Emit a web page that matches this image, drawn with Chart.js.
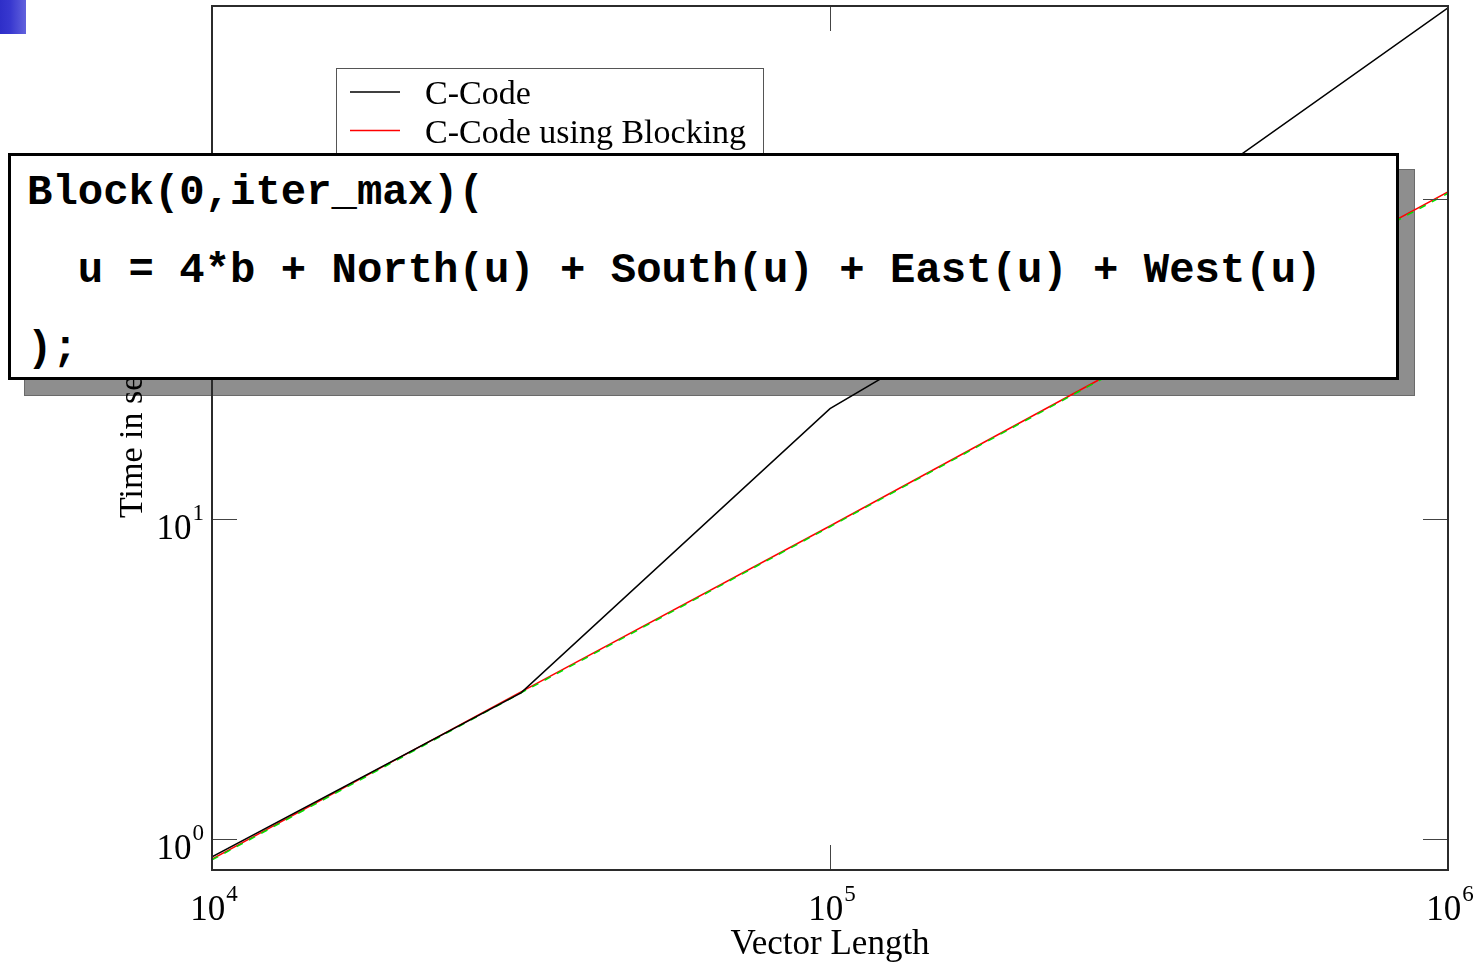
<!DOCTYPE html>
<html lang="en">
<head>
    <meta charset="UTF-8">
    <script src="https://cdn.jsdelivr.net/npm/chart.js@4.4.1/dist/chart.umd.min.js"></script>
    <title>Vector length timing</title>
    <style type="text/css">
        body {
            margin: 0;
            background: #fff;
            width: 1480px;
            height: 965px;
            overflow: hidden;
            position: relative;
        }
        #chart { position: absolute; left: 0; top: 0; z-index: 1; }
        #corner {
            position: absolute; left: 0; top: 0; width: 26px; height: 34px;
            background: linear-gradient(to right, #2e2ec8, #3838cf 40%, #6262dd);
        }
        #shadow {
            position: absolute; left: 24px; top: 169px; width: 1389px; height: 225px;
            background: #8e8e8e; border: 1px solid #6a6a6a; z-index: 0;
        }
        #codebox {
            position: absolute; left: 8px; top: 153px; width: 1385px; height: 221px;
            background: #fff; border: 3px solid #000; z-index: 2;
        }
        #codebox pre {
            margin: -2px 0 0 16px;
            font-family: "Liberation Mono", "Courier New", monospace;
            font-weight: bold;
            font-size: 42.3px;
            line-height: 78px;
            color: #000;
        }
    </style>
</head>
<body>
    <div id="corner"></div>
    <div id="shadow"></div>
    <canvas id="chart" width="1480" height="965"></canvas>
    <div id="codebox"><pre>Block(0,iter_max)(
  u = 4*b + North(u) + South(u) + East(u) + West(u)
);</pre></div>
<script>

// data
const vectorLength = [10000, 31623, 100000, 316228, 1000000];
const cCode = [0.88, 2.86, 22.1, 81.7, 395];
const cBlocking = [0.866, 2.88, 9.5, 31.8, 105];
const cBlocking2 = [0.86, 2.86, 9.45, 31.6, 104];

const xTicks = [1e4, 1e5, 1e6];
const xTickExp = ['4', '5', '6'];
const yTicks = [1, 10, 100];
const yTickExp = ['0', '1', '2'];

const serif = '"Liberation Serif", "Times New Roman", serif';

function points(ys) {
    return vectorLength.map((v, i) => ({x: v, y: ys[i]}));
}

function drawPow(ctx, exp, left, base) {
    ctx.font = '35px ' + serif;
    ctx.fillText('10', left, base);
    const w = ctx.measureText('10').width;
    ctx.font = '23px ' + serif;
    ctx.fillText(exp, left + w + 1, base - 19);
}

function powWidth(ctx, exp) {
    ctx.font = '35px ' + serif;
    const w = ctx.measureText('10').width;
    ctx.font = '23px ' + serif;
    return w + 1 + ctx.measureText(exp).width;
}

const frame = {
    id: 'frame',
    afterDraw(chart) {
        const ctx = chart.ctx;
        const a = chart.chartArea;
        const x = chart.scales.x;
        const y = chart.scales.y;
        ctx.save();

        // inward ticks on all four sides
        ctx.strokeStyle = '#444';
        ctx.lineWidth = 1;
        ctx.beginPath();
        xTicks.forEach(v => {
            const px = Math.round(x.getPixelForValue(v)) + 0.5;
            ctx.moveTo(px, a.bottom); ctx.lineTo(px, a.bottom - 25);
            ctx.moveTo(px, a.top); ctx.lineTo(px, a.top + 25);
        });
        yTicks.forEach(v => {
            const py = Math.round(y.getPixelForValue(v)) + 0.5;
            ctx.moveTo(a.left, py); ctx.lineTo(a.left + 25, py);
            ctx.moveTo(a.right, py); ctx.lineTo(a.right - 25, py);
        });
        ctx.stroke();

        ctx.strokeStyle = '#2b2b2b';
        ctx.lineWidth = 2;
        ctx.strokeRect(a.left, a.top, a.right - a.left, a.bottom - a.top);

        // tick labels
        ctx.fillStyle = '#000';
        ctx.textAlign = 'left';
        ctx.textBaseline = 'alphabetic';
        xTicks.forEach((v, i) => {
            const px = x.getPixelForValue(v);
            const w = powWidth(ctx, xTickExp[i]);
            drawPow(ctx, xTickExp[i], px - w / 2 + 2, a.bottom + 50);
        });
        yTicks.forEach((v, i) => {
            const py = y.getPixelForValue(v);
            const w = powWidth(ctx, yTickExp[i]);
            drawPow(ctx, yTickExp[i], a.left - 8 - w, py + 20);
        });

        // axis titles
        ctx.font = '35px ' + serif;
        ctx.textAlign = 'center';
        ctx.fillText('Vector Length', (a.left + a.right) / 2, 954);
        ctx.save();
        ctx.translate(142, 518);
        ctx.rotate(-Math.PI / 2);
        ctx.textAlign = 'left';
        ctx.font = '34px ' + serif;
        ctx.fillText('Time in seconds', 0, 0);
        ctx.restore();

        // legend
        const items = chart.data.datasets.filter(d => d.label);
        ctx.fillStyle = '#fff';
        ctx.fillRect(336, 68, 427, 30 + items.length * 39);
        ctx.strokeStyle = '#555';
        ctx.lineWidth = 1;
        ctx.strokeRect(336.5, 68.5, 427, 30 + items.length * 39);
        items.forEach((d, i) => {
            const ly = 92 + i * 38.5;
            ctx.strokeStyle = d.borderColor;
            ctx.lineWidth = 1.5;
            ctx.beginPath();
            ctx.moveTo(350, ly); ctx.lineTo(400, ly);
            ctx.stroke();
            ctx.fillStyle = '#000';
            ctx.textAlign = 'left';
            ctx.font = '34px ' + serif;
            ctx.fillText(d.label, 425, ly + 12);
        });
        ctx.restore();
    }
};

new Chart(document.getElementById('chart'), {
    type: 'line',
    data: {
        datasets: [
            {label: 'C-Code', data: points(cCode), borderColor: '#000', borderWidth: 1.5, order: 0},
            {label: '', data: points(cBlocking2), borderColor: '#00e000', borderWidth: 1.5, borderDash: [7, 7], order: 1},
            {label: 'C-Code using Blocking', data: points(cBlocking), borderColor: '#ff0000', borderWidth: 1.5, order: 2}
        ]
    },
    options: {
        responsive: false,
        animation: false,
        devicePixelRatio: 1,
        layout: {padding: {top: 6, right: 32, left: 0, bottom: 0}},
        elements: {point: {radius: 0}, line: {tension: 0}},
        plugins: {legend: {display: false}, tooltip: {enabled: false}},
        scales: {
            x: {
                type: 'logarithmic', min: 10000, max: 1000000,
                ticks: {display: false}, grid: {display: false}, border: {display: false},
                afterBuildTicks: s => { s.ticks = xTicks.map(v => ({value: v})); },
                afterFit: s => { s.height = 95; }
            },
            y: {
                type: 'logarithmic', min: 0.8, max: 400,
                ticks: {display: false}, grid: {display: false}, border: {display: false},
                afterBuildTicks: s => { s.ticks = yTicks.map(v => ({value: v})); },
                afterFit: s => { s.width = 212; }
            }
        }
    },
    plugins: [frame]
});

</script>
</body>
</html>
